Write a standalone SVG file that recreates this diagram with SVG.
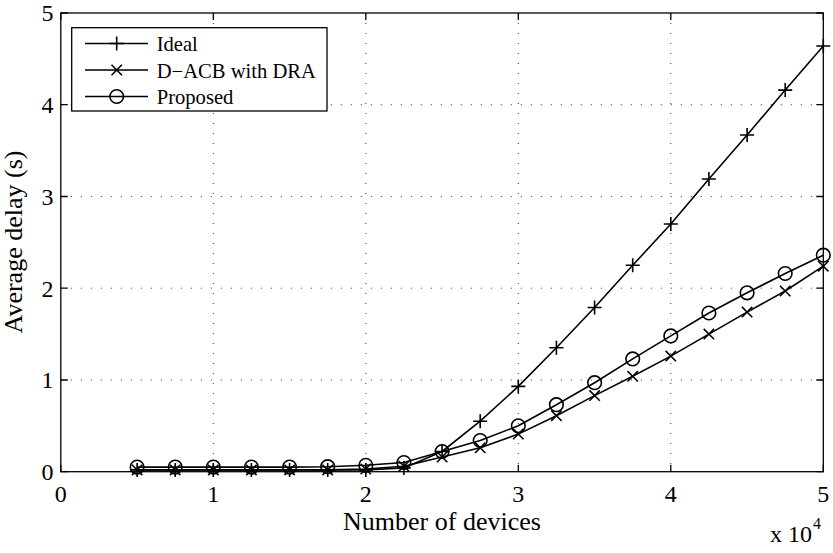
<svg xmlns="http://www.w3.org/2000/svg" xmlns:xlink="http://www.w3.org/1999/xlink" width="833" height="553" viewBox="0 0 833 553" font-family="'Liberation Serif', 'DejaVu Serif', 'Times New Roman', serif">
  <style>
    text { fill: #000; }
    .tick { font-size: 24px; }
    .lab { font-size: 26px; }
    .leg { font-size: 20.6px; }
    .grid { stroke: #333; stroke-width: 1; stroke-dasharray: 1 9; fill: none; }
    .axis { stroke: #000; stroke-width: 1.3; fill: none; }
    .series { stroke: #000; stroke-width: 1.6; fill: none; stroke-linejoin: round; }
    .mk { stroke: #000; stroke-width: 1.6; fill: none; }
  </style>
  <defs>
    <path id="plus" class="mk" d="M-7,0H7M0,-7V7"/>
    <path id="cross" class="mk" d="M-5.2,-5.2L5.2,5.2M-5.2,5.2L5.2,-5.2"/>
    <circle id="ring" class="mk" r="6.8"/>
  </defs>

  <rect width="833" height="553" fill="#fff"/>

  <!-- dotted grid -->
  <g id="grid" class="grid">
    <path d="M213.3,13V471.7M365.8,13V471.7M518.3,13V471.7M670.8,13V471.7"/>
    <path d="M60.8,380H823.3M60.8,288.2H823.3M60.8,196.5H823.3M60.8,104.7H823.3"/>
  </g>

  <!-- axes box and ticks -->
  <g id="axes" class="axis">
    <rect x="60.8" y="13" width="762.5" height="458.7"/>
    <path d="M60.8,471.7v-7M213.3,471.7v-7M365.8,471.7v-7M518.3,471.7v-7M670.8,471.7v-7M823.3,471.7v-7"/>
    <path d="M60.8,13v7M213.3,13v7M365.8,13v7M518.3,13v7M670.8,13v7M823.3,13v7"/>
    <path d="M60.8,471.7h7M60.8,380h7M60.8,288.2h7M60.8,196.5h7M60.8,104.7h7M60.8,13h7"/>
    <path d="M823.3,471.7h-7M823.3,380h-7M823.3,288.2h-7M823.3,196.5h-7M823.3,104.7h-7M823.3,13h-7"/>
  </g>

  <!-- tick labels -->
  <g id="yticks" class="tick" text-anchor="end">
    <text x="53.5" y="480">0</text>
    <text x="53.5" y="388.3">1</text>
    <text x="53.5" y="296.5">2</text>
    <text x="53.5" y="204.8">3</text>
    <text x="53.5" y="113">4</text>
    <text x="53.5" y="21.3">5</text>
  </g>
  <g id="xticks" class="tick" text-anchor="middle">
    <text x="60.8" y="502">0</text>
    <text x="213.3" y="502">1</text>
    <text x="365.8" y="502">2</text>
    <text x="518.3" y="502">3</text>
    <text x="670.8" y="502">4</text>
    <text x="823.3" y="502">5</text>
  </g>
  <g id="xscale">
    <text class="tick" x="770" y="542">x 10</text>
    <text x="813" y="529" font-size="16">4</text>
  </g>

  <!-- axis labels -->
  <text id="xlabel" class="lab" x="442" y="530" text-anchor="middle">Number of devices</text>
  <text id="ylabel" class="lab" transform="translate(22,242) rotate(-90)" text-anchor="middle">Average delay (s)</text>

  <!-- Ideal -->
  <g id="ideal">
    <polyline class="series" points="137.1,469.9 175.2,469.9 213.3,469.9 251.4,469.9 289.6,469.9 327.7,469.9 365.8,469.9 403.9,468 442.1,451.5 480.2,421.2 518.3,386.4 556.4,347.8 594.6,307.5 632.7,265.3 670.8,224 708.9,179 747.1,135 785.2,90.1 823.3,46"/>
    <use xlink:href="#plus" x="137.1" y="469.9"/>
    <use xlink:href="#plus" x="175.2" y="469.9"/>
    <use xlink:href="#plus" x="213.3" y="469.9"/>
    <use xlink:href="#plus" x="251.4" y="469.9"/>
    <use xlink:href="#plus" x="289.6" y="469.9"/>
    <use xlink:href="#plus" x="327.7" y="469.9"/>
    <use xlink:href="#plus" x="365.8" y="469.9"/>
    <use xlink:href="#plus" x="403.9" y="468"/>
    <use xlink:href="#plus" x="442.1" y="451.5"/>
    <use xlink:href="#plus" x="480.2" y="421.2"/>
    <use xlink:href="#plus" x="518.3" y="386.4"/>
    <use xlink:href="#plus" x="556.4" y="347.8"/>
    <use xlink:href="#plus" x="594.6" y="307.5"/>
    <use xlink:href="#plus" x="632.7" y="265.3"/>
    <use xlink:href="#plus" x="670.8" y="224"/>
    <use xlink:href="#plus" x="708.9" y="179"/>
    <use xlink:href="#plus" x="747.1" y="135"/>
    <use xlink:href="#plus" x="785.2" y="90.1"/>
    <use xlink:href="#plus" x="823.3" y="46"/>
  </g>

  <!-- D-ACB with DRA -->
  <g id="dacb">
    <polyline class="series" points="137.1,469.9 175.2,469.9 213.3,469.9 251.4,469.9 289.6,469.9 327.7,469.9 365.8,469 403.9,466.2 442.1,457 480.2,447.8 518.3,434.1 556.4,415.7 594.6,395.6 632.7,376.3 670.8,356.1 708.9,334.1 747.1,312.1 785.2,291 823.3,266.2"/>
    <use xlink:href="#cross" x="137.1" y="469.9"/>
    <use xlink:href="#cross" x="175.2" y="469.9"/>
    <use xlink:href="#cross" x="213.3" y="469.9"/>
    <use xlink:href="#cross" x="251.4" y="469.9"/>
    <use xlink:href="#cross" x="289.6" y="469.9"/>
    <use xlink:href="#cross" x="327.7" y="469.9"/>
    <use xlink:href="#cross" x="365.8" y="469"/>
    <use xlink:href="#cross" x="403.9" y="466.2"/>
    <use xlink:href="#cross" x="442.1" y="457"/>
    <use xlink:href="#cross" x="480.2" y="447.8"/>
    <use xlink:href="#cross" x="518.3" y="434.1"/>
    <use xlink:href="#cross" x="556.4" y="415.7"/>
    <use xlink:href="#cross" x="594.6" y="395.6"/>
    <use xlink:href="#cross" x="632.7" y="376.3"/>
    <use xlink:href="#cross" x="670.8" y="356.1"/>
    <use xlink:href="#cross" x="708.9" y="334.1"/>
    <use xlink:href="#cross" x="747.1" y="312.1"/>
    <use xlink:href="#cross" x="785.2" y="291"/>
    <use xlink:href="#cross" x="823.3" y="266.2"/>
  </g>

  <!-- Proposed -->
  <g id="proposed">
    <polyline class="series" points="137.1,467.1 175.2,467.1 213.3,467.1 251.4,467.1 289.6,467.1 327.7,466.7 365.8,465.3 403.9,462.5 442.1,451.5 480.2,440.5 518.3,425.8 556.4,404.7 594.6,382.7 632.7,358.9 670.8,335.9 708.9,313 747.1,292.8 785.2,273.5 823.3,255.2"/>
    <use xlink:href="#ring" x="137.1" y="467.1"/>
    <use xlink:href="#ring" x="175.2" y="467.1"/>
    <use xlink:href="#ring" x="213.3" y="467.1"/>
    <use xlink:href="#ring" x="251.4" y="467.1"/>
    <use xlink:href="#ring" x="289.6" y="467.1"/>
    <use xlink:href="#ring" x="327.7" y="466.7"/>
    <use xlink:href="#ring" x="365.8" y="465.3"/>
    <use xlink:href="#ring" x="403.9" y="462.5"/>
    <use xlink:href="#ring" x="442.1" y="451.5"/>
    <use xlink:href="#ring" x="480.2" y="440.5"/>
    <use xlink:href="#ring" x="518.3" y="425.8"/>
    <use xlink:href="#ring" x="556.4" y="404.7"/>
    <use xlink:href="#ring" x="594.6" y="382.7"/>
    <use xlink:href="#ring" x="632.7" y="358.9"/>
    <use xlink:href="#ring" x="670.8" y="335.9"/>
    <use xlink:href="#ring" x="708.9" y="313"/>
    <use xlink:href="#ring" x="747.1" y="292.8"/>
    <use xlink:href="#ring" x="785.2" y="273.5"/>
    <use xlink:href="#ring" x="823.3" y="255.2"/>
  </g>

  <!-- legend -->
  <g id="legend">
    <rect x="71.7" y="27.7" width="255.3" height="83.3" fill="#fff" stroke="#000" stroke-width="1.3"/>
    <path class="series" d="M85,43.5H148M85,70H148M85,96.5H148"/>
    <use xlink:href="#plus" x="116.7" y="43.5"/>
    <use xlink:href="#cross" x="116.7" y="70"/>
    <use xlink:href="#ring" x="116.7" y="96.5"/>
    <text class="leg" x="156.7" y="51">Ideal</text>
    <text class="leg" x="156.7" y="77.5">D&#8722;ACB with DRA</text>
    <text class="leg" x="156.7" y="104">Proposed</text>
  </g>
</svg>
